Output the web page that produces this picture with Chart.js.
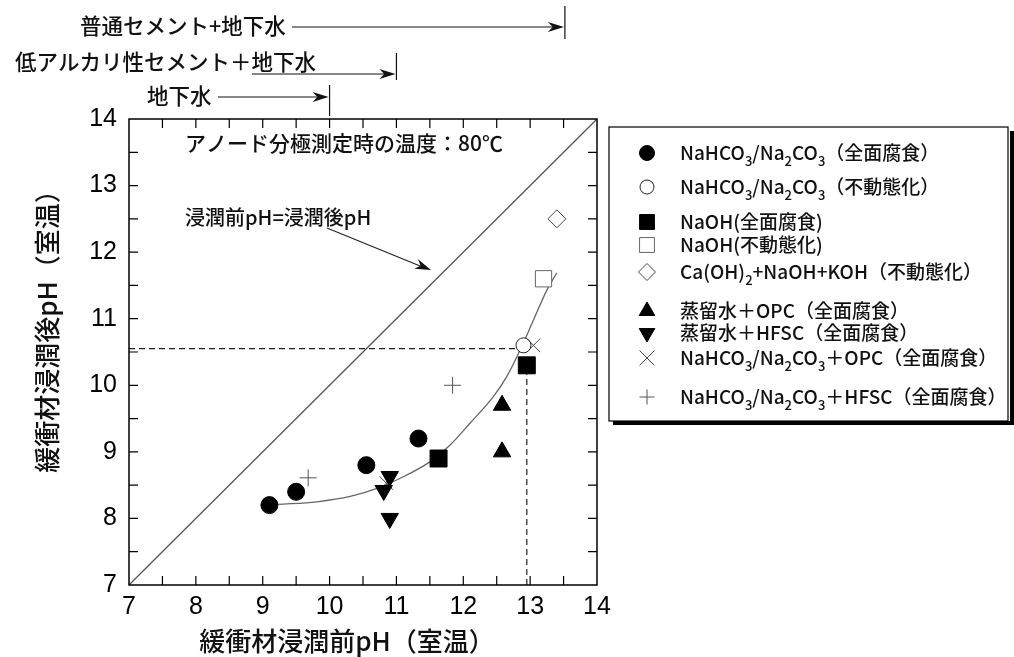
<!DOCTYPE html>
<html lang="ja">
<head>
  <meta charset="UTF-8">
  <title>緩衝材浸潤前後のpH</title>
  <script src="https://cdn.jsdelivr.net/npm/chart.js"></script>
  <style>
    body { margin: 0; background: #fff; }
    #wrap { width: 1014px; height: 657px; }
  </style>
</head>
<body>
  <div id="wrap"><canvas id="phChart" width="1014" height="657"></canvas></div>

  <script>
    // --- data (pH before / after soaking) ---
    const fullCorrX = [9.1, 9.5, 10.55, 11.33];     // NaHCO3/Na2CO3 全面腐食
    const fullCorrY = [8.2, 8.4, 8.8, 9.2];
    const passX = [12.9];                            // NaHCO3/Na2CO3 不動態化
    const passY = [10.6];
    const naohCorrX = [11.63, 12.95];                // NaOH 全面腐食
    const naohCorrY = [8.9, 10.3];
    const naohPassX = [13.2];                        // NaOH 不動態化
    const naohPassY = [11.6];
    const caX = [13.4];                              // Ca(OH)2+NaOH+KOH
    const caY = [12.5];
    const opcWaterX = [12.58, 12.58];                // 蒸留水+OPC
    const opcWaterY = [9.7, 9.0];
    const hfscWaterX = [10.9, 10.81, 10.9];          // 蒸留水+HFSC
    const hfscWaterY = [8.63, 8.42, 8.0];
    const carbOpcX = [10.85, 13.05];                 // NaHCO3/Na2CO3+OPC
    const carbOpcY = [8.53, 10.6];
    const carbHfscX = [9.68, 11.84];                 // NaHCO3/Na2CO3+HFSC
    const carbHfscY = [8.61, 10.0];

    // fitted curve
    const fitX = [9.23, 9.81, 10.31, 10.71, 11.05, 11.5, 11.8, 12.1, 12.45, 12.65, 12.85, 13.05, 13.25, 13.4];
    const fitY = [8.21, 8.25, 8.33, 8.45, 8.6, 8.85, 9.1, 9.43, 9.83, 10.13, 10.53, 10.98, 11.43, 11.69];

    // guide lines
    const equalLine = [7, 14];
    const guideAfterPH = 10.55;   // horizontal dashed
    const guideBeforePH = 12.95;  // vertical dashed
    const guideEndX = 12.88;
    const guideEndY = 10.3;

    // ranges above the chart
    const rangeLabels = ['普通セメント+地下水', '低アルカリ性セメント＋地下水', '地下水'];
    const rangeEnds = [13.52, 11.0, 10.0];

    const legendLabels = [
      [['NaHCO'], ['3', 1], ['/Na'], ['2', 1], ['CO'], ['3', 1], ['（全面腐食）']],
      [['NaHCO'], ['3', 1], ['/Na'], ['2', 1], ['CO'], ['3', 1], ['（不動態化）']],
      [['NaOH(全面腐食)']],
      [['NaOH(不動態化)']],
      [['Ca(OH)'], ['2', 1], ['+NaOH+KOH（不動態化）']],
      [['蒸留水＋OPC（全面腐食）']],
      [['蒸留水＋HFSC（全面腐食）']],
      [['NaHCO'], ['3', 1], ['/Na'], ['2', 1], ['CO'], ['3', 1], ['＋OPC（全面腐食）']],
      [['NaHCO'], ['3', 1], ['/Na'], ['2', 1], ['CO'], ['3', 1], ['＋HFSC（全面腐食）']]
    ];

    const cjk = "'Noto Sans CJK JP', 'Noto Sans', sans-serif";
    const numFont = "'Liberation Sans Narrow', 'Liberation Sans', Arial, sans-serif";

    function pts(xs, ys) {
      return xs.map((x, i) => ({ x: x, y: ys[i] }));
    }

    // marker styles used both on the chart and in the legend box
    const markers = [
      { style: 'circle', r: 8.5, lr: 7.5, fill: '#000', stroke: '#000', bw: 1 },
      { style: 'circle', r: 7.5, lr: 7, fill: '#fff', stroke: '#222', bw: 1 },
      { style: 'rect', r: 12, lr: 10.5, fill: '#000', stroke: '#000', bw: 1 },
      { style: 'rect', r: 11.5, lr: 10.5, fill: '#fff', stroke: '#666', bw: 1 },
      { style: 'rectRot', r: 9, lr: 8.5, fill: '#fff', stroke: '#444', bw: 1 },
      { style: 'triangle', r: 10, lr: 9, fill: '#000', stroke: '#000', bw: 1 },
      { style: 'triangle', r: 10, lr: 9, fill: '#000', stroke: '#000', bw: 1, rot: 180 },
      { style: 'crossRot', r: 9.5, lr: 10.5, fill: '#444', stroke: '#444', bw: 1 },
      { style: 'cross', r: 8.5, lr: 7.5, fill: '#555', stroke: '#555', bw: 1 }
    ];
    const series = [
      pts(fullCorrX, fullCorrY), pts(passX, passY), pts(naohCorrX, naohCorrY),
      pts(naohPassX, naohPassY), pts(caX, caY), pts(opcWaterX, opcWaterY),
      pts(hfscWaterX, hfscWaterY), pts(carbOpcX, carbOpcY), pts(carbHfscX, carbHfscY)
    ];

    const datasets = series.map((d, i) => ({
      data: d,
      pointStyle: markers[i].style,
      pointRadius: markers[i].r,
      pointRotation: markers[i].rot || 0,
      pointBackgroundColor: markers[i].fill,
      pointBorderColor: markers[i].stroke,
      pointBorderWidth: markers[i].bw,
      showLine: false,
      order: 0
    }));

    datasets.push({
      data: pts(fitX, fitY), showLine: true, pointRadius: 0, borderColor: '#666',
      borderWidth: 1.3, tension: 0.4, cubicInterpolationMode: 'monotone', order: 5
    });
    datasets.push({
      data: pts(equalLine, equalLine), showLine: true, pointRadius: 0,
      borderColor: '#555', borderWidth: 1.3, order: 5
    });
    datasets.push({
      data: [{ x: 7, y: guideAfterPH }, { x: guideEndX, y: guideAfterPH }], showLine: true,
      pointRadius: 0, borderColor: '#222', borderWidth: 1.2, borderDash: [6, 4], order: 5
    });
    datasets.push({
      data: [{ x: guideBeforePH, y: 7 }, { x: guideBeforePH, y: guideEndY }], showLine: true,
      pointRadius: 0, borderColor: '#222', borderWidth: 1.2, borderDash: [6, 4], order: 5
    });

    function arrowHead(ctx, x1, y1, x2, y2, len, wid) {
      const a = Math.atan2(y2 - y1, x2 - x1);
      const c = Math.cos(a), s = Math.sin(a);
      ctx.beginPath();
      ctx.moveTo(x2, y2);
      ctx.lineTo(x2 - len * c + wid * s, y2 - len * s - wid * c);
      ctx.lineTo(x2 - len * 0.7 * c, y2 - len * 0.7 * s);
      ctx.lineTo(x2 - len * c - wid * s, y2 - len * s + wid * c);
      ctx.closePath();
      ctx.fill();
    }

    function drawRich(ctx, parts, x, y, size) {
      let cx = x;
      parts.forEach(p => {
        const sub = p[1] === 1;
        ctx.font = '500 ' + (sub ? Math.round(size * 0.7) : size) + 'px ' + cjk;
        ctx.fillText(p[0], cx, sub ? y + size * 0.42 : y);
        cx += ctx.measureText(p[0]).width;
      });
    }

    const decorPlugin = {
      id: 'decor',
      afterDatasetsDraw(chart) {
        const { ctx, chartArea: a, scales } = chart;
        const xs = scales.x, ys = scales.y;
        ctx.save();
        // frame
        ctx.strokeStyle = '#000';
        ctx.lineWidth = 1.5;
        ctx.strokeRect(a.left, a.top, a.right - a.left, a.bottom - a.top);
        // inward ticks every 0.5
        ctx.lineWidth = 1.2;
        ctx.beginPath();
        for (let v = 7.5; v < 14; v += 0.5) {
          const px = xs.getPixelForValue(v);
          ctx.moveTo(px, a.bottom); ctx.lineTo(px, a.bottom - 9);
          ctx.moveTo(px, a.top); ctx.lineTo(px, a.top + 9);
          const py = ys.getPixelForValue(v);
          ctx.moveTo(a.left, py); ctx.lineTo(a.left + 9, py);
          ctx.moveTo(a.right, py); ctx.lineTo(a.right - 9, py);
        }
        ctx.stroke();

        // annotations inside the plot
        ctx.fillStyle = '#111';
        ctx.textBaseline = 'middle';
        ctx.textAlign = 'left';
        ctx.font = '500 21px ' + cjk;
        ctx.fillText('アノード分極測定時の温度：80℃', 185, 143);
        ctx.font = '500 20px ' + cjk;
        ctx.fillText('浸潤前pH=浸潤後pH', 185, 217);
        ctx.strokeStyle = '#222';
        ctx.lineWidth = 1.2;
        ctx.beginPath();
        ctx.moveTo(327, 228); ctx.lineTo(425, 268);
        ctx.stroke();
        ctx.fillStyle = '#111';
        arrowHead(ctx, 327, 228, 431, 270, 16, 5);

        // ranges above the chart
        const rows = [
          { tx: 80, ty: 26, ax: 292, ay: 27, b0: 6, b1: 39 },
          { tx: 15, ty: 62, ax: 252, ay: 74, b0: 53, b1: 80 },
          { tx: 147, ty: 96, ax: 218, ay: 97, b0: 85, b1: 116 }
        ];
        rows.forEach((r, i) => {
          const ex = xs.getPixelForValue(rangeEnds[i]);
          ctx.fillStyle = '#111';
          ctx.font = '500 21.5px ' + cjk;
          ctx.fillText(rangeLabels[i], r.tx, r.ty);
          ctx.strokeStyle = '#111';
          ctx.lineWidth = 1.2;
          ctx.beginPath();
          ctx.moveTo(r.ax, r.ay); ctx.lineTo(ex - 8, r.ay);
          ctx.moveTo(ex, r.b0); ctx.lineTo(ex, r.b1);
          ctx.stroke();
          arrowHead(ctx, r.ax, r.ay, ex - 1, r.ay, 16, 5);
        });

        // axis titles
        ctx.fillStyle = '#111';
        ctx.font = '500 26px ' + cjk;
        ctx.textAlign = 'center';
        ctx.fillText('緩衝材浸潤前pH（室温）', 347, 641);
        ctx.save();
        ctx.translate(47, 325);
        ctx.rotate(-Math.PI / 2);
        ctx.fillText('緩衝材浸潤後pH（室温）', 0, 0);
        ctx.restore();

        // legend box
        const L = 609, T = 127, B = 421;
        ctx.fillStyle = '#000';
        ctx.fillRect(L + 4, B, 1014 - L - 4, 4);
        ctx.fillRect(1010, T + 4, 4, B - T);
        ctx.strokeStyle = '#000';
        ctx.lineWidth = 1.2;
        ctx.strokeRect(L, T, 1008 - L, B - T);
        const rowY = [153, 187, 222, 245, 272, 311, 333, 358, 397];
        ctx.textAlign = 'left';
        legendLabels.forEach((parts, i) => {
          const m = markers[i];
          ctx.fillStyle = m.fill;
          ctx.strokeStyle = m.stroke;
          ctx.lineWidth = m.bw;
          Chart.helpers.drawPoint(ctx, {
            pointStyle: m.style, radius: m.lr, rotation: m.rot || 0, borderWidth: m.bw
          }, 647, rowY[i]);
          ctx.fillStyle = '#111';
          drawRich(ctx, parts, 680, rowY[i], 19);
        });
        ctx.restore();
      }
    };

    const ctx = document.getElementById('phChart').getContext('2d');
    new Chart(ctx, {
      type: 'scatter',
      data: { datasets: datasets },
      plugins: [decorPlugin],
      options: {
        responsive: false,
        animation: false,
        layout: { padding: { left: 0, top: 119, right: 417, bottom: 0 } },
        plugins: { legend: { display: false }, tooltip: { enabled: false } },
        scales: {
          x: {
            type: 'linear', min: 7, max: 14,
            ticks: { stepSize: 1, padding: 7, color: '#000', font: { family: numFont, size: 25 } },
            grid: { display: false, drawTicks: false },
            border: { display: false },
            afterFit(s) { s.height = 72; }
          },
          y: {
            type: 'linear', min: 7, max: 14,
            ticks: { stepSize: 1, padding: 12, color: '#000', font: { family: numFont, size: 25 } },
            grid: { display: false, drawTicks: false },
            border: { display: false },
            afterFit(s) { s.width = 129; }
          }
        }
      }
    });
  </script>
</body>
</html>
